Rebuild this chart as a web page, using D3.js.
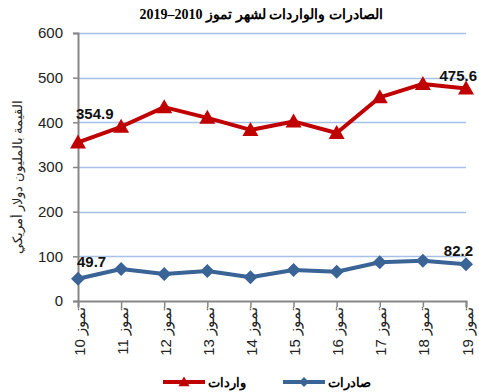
<!DOCTYPE html>
<html>
<head>
<meta charset="utf-8">
<script src="https://cdn.jsdelivr.net/npm/d3@7"></script>
<style>
    body { margin: 0; background: #fff; }
    svg { display: block; font-family: Arial, "Liberation Sans", sans-serif; }
</style>
</head>
<body>
<div id="chart"></div>
<script>
// chart data
const years = ["10", "11", "12", "13", "14", "15", "16", "17", "18", "19"];
const monthName = "تموز";
const imports = [354.9, 390, 434, 410, 383, 402, 376, 456, 486, 475.6];
const exports = [49.7, 71.6, 60.4, 67, 53, 69.4, 65.6, 86.6, 90, 82.2];
const yTicks = [0, 100, 200, 300, 400, 500, 600];
const titleText = "الصادرات والواردات لشهر تموز 2010–2019";
const yTitle = "القيمة بالمليون دولار أمريكي";
const seriesNames = ["صادرات", "واردات"];

const width = 479, height = 392;
const margin = { top: 33, right: 13, bottom: 91, left: 78 };
const chartWidth = width - margin.left - margin.right;
const chartHeight = height - margin.top - margin.bottom;

const redColor = "#C00000";
const blueColor = "#3A6496";

const svg = d3.select("#chart").append("svg")
    .attr("width", width)
    .attr("height", height);

const x = d3.scalePoint()
    .domain(years)
    .range([0, chartWidth]);

const y = d3.scaleLinear()
    .domain([0, 600])
    .range([chartHeight, 0]);

const chartArea = svg.append("g")
    .attr("transform", `translate(${margin.left}, ${margin.top})`);

// gridlines
chartArea.append("g")
    .selectAll("line")
    .data(yTicks.filter(d => d > 0))
    .enter().append("line")
    .attr("x1", 0)
    .attr("x2", chartWidth)
    .attr("y1", d => Math.round(y(d)) + 0.5)
    .attr("y2", d => Math.round(y(d)) + 0.5)
    .attr("stroke", "#A7C0E4")
    .attr("stroke-width", 1.5);

// y axis
const yAxis = chartArea.append("g")
    .call(d3.axisLeft(y).tickValues(yTicks).tickSize(5).tickPadding(10));
yAxis.select(".domain").attr("stroke", "#878787").attr("stroke-width", 2);
yAxis.selectAll(".tick line").attr("stroke", "#878787").attr("stroke-width", 1.5);
yAxis.selectAll(".tick text")
    .style("font-size", "15px")
    .attr("fill", "#222");

// x axis
const xAxis = chartArea.append("g")
    .attr("transform", `translate(0, ${chartHeight})`)
    .call(d3.axisBottom(x).tickSize(6).tickFormat(d => `${monthName} ${d}`));
xAxis.select(".domain").attr("stroke", "#878787").attr("stroke-width", 2);
xAxis.selectAll(".tick line").attr("stroke", "#878787").attr("stroke-width", 1.5);
xAxis.selectAll(".tick text")
    .attr("text-anchor", "end")
    .attr("x", 0)
    .attr("y", 0)
    .attr("dx", "-6px")
    .attr("dy", "0.4em")
    .attr("transform", "rotate(-90)")
    .attr("fill", "#222")
    .style("font-size", "15px");

// lines
const line = d3.line()
    .x((d, i) => x(years[i]))
    .y(d => y(d));

chartArea.append("path")
    .datum(exports)
    .attr("d", line)
    .attr("fill", "none")
    .attr("stroke", blueColor)
    .attr("stroke-width", 4)
    .attr("stroke-linejoin", "round");

chartArea.append("path")
    .datum(imports)
    .attr("d", line)
    .attr("fill", "none")
    .attr("stroke", redColor)
    .attr("stroke-width", 4)
    .attr("stroke-linejoin", "round");

const diamond = "M0,-7L7,0L0,7L-7,0Z";
const triangle = "M0,-8L8,6L-8,6Z";

chartArea.append("g")
    .selectAll("path")
    .data(exports)
    .enter().append("path")
    .attr("d", diamond)
    .attr("transform", (d, i) => `translate(${x(years[i])}, ${y(d)})`)
    .attr("fill", blueColor);

chartArea.append("g")
    .selectAll("path")
    .data(imports)
    .enter().append("path")
    .attr("d", triangle)
    .attr("transform", (d, i) => `translate(${x(years[i])}, ${y(d)})`)
    .attr("fill", redColor);

// data labels at first and last points
const last = years.length - 1;
const labelData = [
    { x: x(years[0]) - 2, y: y(imports[0]) - 23, anchor: "start", text: imports[0].toFixed(1) },
    { x: x(years[last]) + 11, y: y(imports[last]) - 8, anchor: "end", text: imports[last].toFixed(1) },
    { x: x(years[0]) - 1, y: y(exports[0]) - 12, anchor: "start", text: exports[0].toFixed(1) },
    { x: x(years[last]) + 7, y: y(exports[last]) - 8, anchor: "end", text: exports[last].toFixed(1) }
];

chartArea.append("g")
    .selectAll("text")
    .data(labelData)
    .enter().append("text")
    .attr("x", d => d.x)
    .attr("y", d => d.y)
    .attr("text-anchor", d => d.anchor)
    .style("font-size", "15px")
    .style("font-weight", "bold")
    .attr("fill", "#111")
    .text(d => d.text);

// title
svg.append("text")
    .attr("x", 261)
    .attr("y", 19)
    .attr("text-anchor", "middle")
    .style("font-family", "'Liberation Serif', 'Times New Roman', serif")
    .style("font-size", "14px")
    .style("font-weight", "bold")
    .text(titleText);

// y axis title
svg.append("text")
    .attr("transform", `translate(17, 177) rotate(-90)`)
    .attr("text-anchor", "middle")
    .attr("dy", "0.35em")
    .style("font-size", "13px")
    .attr("fill", "#222")
    .text(yTitle);

// legend
const legendItems = [
    { name: seriesNames[0], color: blueColor, shape: diamond, x: 283 },
    { name: seriesNames[1], color: redColor, shape: triangle, x: 163 }
];

const legend = svg.append("g")
    .attr("transform", "translate(0, 382)");

const items = legend.selectAll("g")
    .data(legendItems)
    .enter().append("g")
    .attr("transform", d => `translate(${d.x}, 0)`);

items.append("line")
    .attr("x1", 0)
    .attr("x2", 42)
    .attr("stroke", d => d.color)
    .attr("stroke-width", 4);

items.append("path")
    .attr("d", d => d.shape)
    .attr("transform", "translate(21, 0) scale(0.7)")
    .attr("fill", d => d.color);

items.append("text")
    .attr("x", 45)
    .attr("dy", "0.35em")
    .attr("text-anchor", "start")
    .style("font-size", "13px")
    .style("font-weight", "bold")
    .text(d => d.name);
</script>
</body>
</html>
